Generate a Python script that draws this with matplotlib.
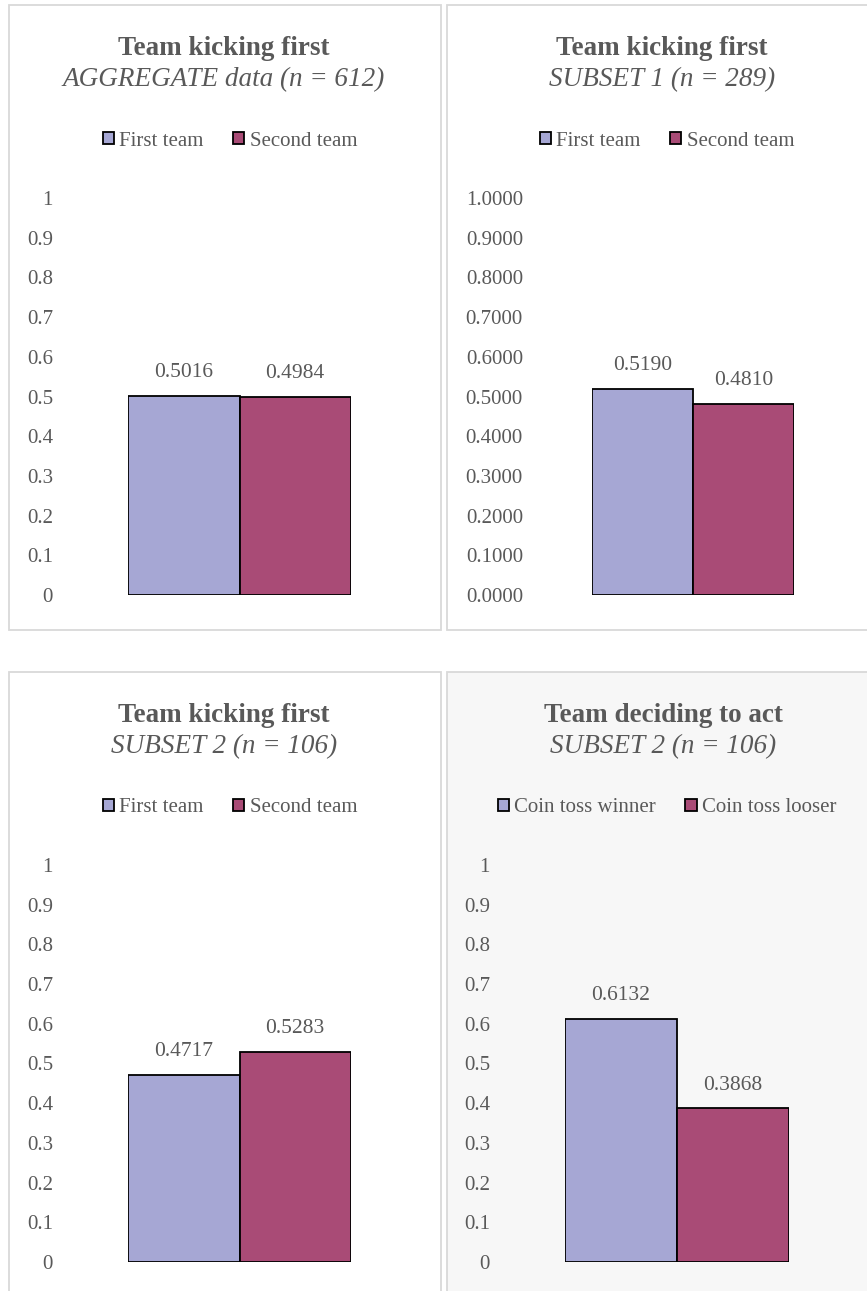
#!/usr/bin/env python3
"""
Quatro painéis de barras: time que chuta primeiro / time que decide agir.
"""

import matplotlib
matplotlib.use("Agg")
import matplotlib.pyplot as plt
from matplotlib.patches import Rectangle, Patch

# ---------------------------------------------------------------------------
# Dados
# ---------------------------------------------------------------------------
titles = ["Team kicking first", "Team kicking first",
          "Team kicking first", "Team deciding to act"]
subtitles = ["AGGREGATE data (n = 612)", "SUBSET 1 (n = 289)",
             "SUBSET 2 (n = 106)", "SUBSET 2 (n = 106)"]
series_kick = ["First team", "Second team"]
series_toss = ["Coin toss winner", "Coin toss looser"]

aggregate = [0.5016, 0.4984]
subset1 = [0.5190, 0.4810]
subset2 = [0.4717, 0.5283]
subset2_act = [0.6132, 0.3868]

y_ticks = [0, 0.1, 0.2, 0.3, 0.4, 0.5, 0.6, 0.7, 0.8, 0.9, 1]
tick_fmt = ["{:g}", "{:.4f}", "{:g}", "{:g}"]

# ---------------------------------------------------------------------------
# Estilo
# ---------------------------------------------------------------------------
W, H = 867, 1291
C1, C2 = "#a6a7d4", "#a94b76"
TXT = "#595959"
BORDER = "#d9d9d9"
plt.rcParams["font.family"] = ["Liberation Serif", "DejaVu Serif"]

fig = plt.figure(figsize=(W / 100, H / 100), dpi=100)


def fx(x):
    return x / W


def fy(y):
    return 1 - y / H


# painel: (esq, topo, dir, baixo, barra_esq, barra_dir, label_dir, centro_titulo, centro_legenda, fundo)
panels = [
    (9, 5, 441, 630, 128, 351, 53, 224, 230, "white"),
    (447, 5, 880, 630, 592, 794, 523, 662, 667, "white"),
    (9, 672, 441, 1310, 128, 351, 53, 224, 230, "white"),
    (447, 672, 880, 1310, 565, 789, 490, 663, 667, "#f7f7f7"),
]
values = [aggregate, subset1, subset2, subset2_act]
legends = [series_kick, series_kick, series_kick, series_toss]

for i, (l, t, r, b, bl, br, lr, tc, lc, bg) in enumerate(panels):
    # moldura (atrás dos eixos)
    fig.patches.append(Rectangle((fx(l), fy(b)), fx(r - l), (b - t) / H,
                                 transform=fig.transFigure, facecolor=bg,
                                 edgecolor=BORDER, linewidth=1.3, zorder=-1))

    # títulos
    fig.text(fx(tc), fy(t + 50), titles[i], ha="center", va="baseline",
             fontsize=19.5, fontweight="bold", color=TXT)
    fig.text(fx(tc), fy(t + 81), subtitles[i], ha="center", va="baseline",
             fontsize=19.5, style="italic", color=TXT)

    # eixo: 1 em t+193, 0 em t+590
    y1, y0 = t + 193, t + 590
    ax = fig.add_axes([fx(bl), fy(y0), fx(br - bl), (y0 - y1) / H])
    ax.set_facecolor("none")
    bars = ax.bar([0, 1], values[i], width=1, color=[C1, C2],
                  edgecolor="black", linewidth=1.3)
    ax.bar_label(bars, labels=[f"{v:.4f}" for v in values[i]],
                 padding=10, fontsize=15.5, color=TXT)
    ax.set_xlim(-0.5, 1.5)
    ax.set_ylim(0, 1)
    ax.set_xticks([])
    ax.set_yticks(y_ticks)
    ax.set_yticklabels([tick_fmt[i].format(v) for v in y_ticks])
    ax.tick_params(axis="y", length=0, pad=(bl - lr) * 0.72,
                   labelsize=15, labelcolor=TXT)
    for s in ax.spines.values():
        s.set_visible(False)

    # legenda
    handles = [Patch(facecolor=C1, edgecolor="black", linewidth=1.3),
               Patch(facecolor=C2, edgecolor="black", linewidth=1.3)]
    leg = fig.legend(handles, legends[i], loc="center",
                     bbox_to_anchor=(fx(lc), fy(t + 136)), ncol=2,
                     frameon=False, fontsize=15, handlelength=0.55,
                     handleheight=0.55, handletextpad=0.25,
                     columnspacing=1.4, borderaxespad=0, borderpad=0)
    for txt in leg.get_texts():
        txt.set_color(TXT)

plt.savefig("out.png", dpi=100)
plt.close(fig)
